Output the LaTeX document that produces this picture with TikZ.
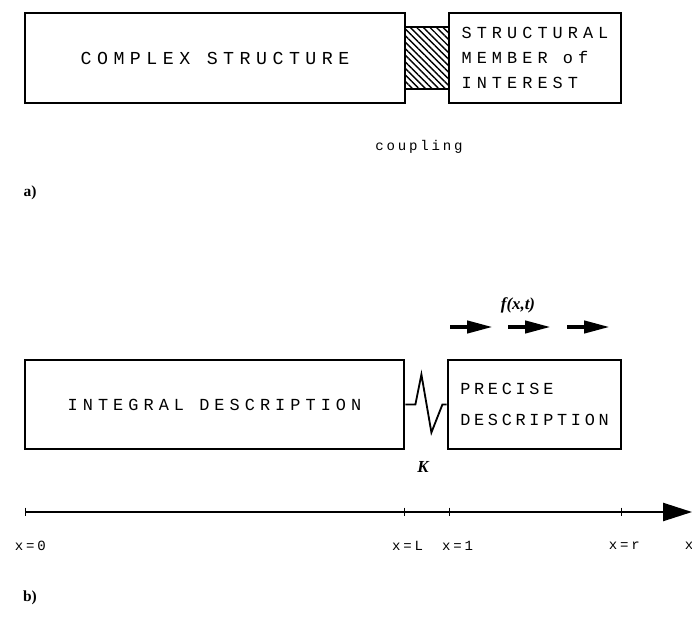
\documentclass[tikz,border=0pt]{standalone}
\usepackage{fontspec}
\setmainfont{Liberation Serif}
\newfontfamily\widemono[LetterSpace=30]{Liberation Mono}
\newfontfamily\tightmono[LetterSpace=22]{Liberation Mono}
\newfontfamily\smallmono[LetterSpace=20]{Liberation Mono}
\usetikzlibrary{arrows.meta, patterns.meta}

\tikzset{
  box/.style={draw, line width=2pt, inner sep=0pt},
  boxtext/.style={font=\widemono\fontsize{12}{17.8}\selectfont},
  smalltext/.style={font=\smallmono\fontsize{10}{12}\selectfont},
  bolditalic/.style={font=\bfseries\itshape\fontsize{12}{14}\selectfont},
  partlabel/.style={font=\bfseries\fontsize{11}{13}\selectfont},
  loadarrow/.style={line width=3pt, -{Triangle[length=0.65cm, width=0.3cm]}},
  axis/.style={line width=1.4pt, -{Triangle[length=0.72cm, width=0.45cm]}},
}

\begin{document}
\begin{tikzpicture}
    \useasboundingbox (0,0) rectangle (17.3,15.525);

    % Draw nodes a)
    \node[box, minimum width=9.5cm, minimum height=2.25cm, font=\widemono\fontsize{13}{15}\selectfont] (complex) at (5.375,14.075) {COMPLEX STRUCTURE};
    \node[box, line width=1.5pt, pattern={Lines[angle=-45, distance=3.3pt, line width=1pt]}, minimum width=1.1cm, minimum height=1.55cm] (coupling) at (10.675,14.075) {};
    \node[box, boxtext, align=left, minimum width=4.3cm, minimum height=2.25cm] (member) at (13.375,14.075) {STRUCTURAL\\MEMBER of\\INTEREST};

    % Labels a)
    \node[smalltext] (couplingtext) at (10.475,11.85) {coupling};
    \node[partlabel] (parta) at (0.75,10.7) {a)};

    % Draw nodes b)
    \node[box, boxtext, minimum width=9.475cm, minimum height=2.225cm] (integral) at (5.3625,5.4125) {INTEGRAL DESCRIPTION};
    \node[box, align=left, font=\tightmono\fontsize{12}{22}\selectfont, minimum width=4.325cm, minimum height=2.225cm] (precise) at (13.3625,5.4125) {PRECISE\\DESCRIPTION};

    % Draw spring
    \draw[line width=1.3pt] (integral.east) -- ++(0.25,0) -- ++(0.15,0.75) -- ++(0.25,-1.45) -- ++(0.275,0.7) -- (precise.west);
    \node[bolditalic] (spring) at (10.575,3.85) {K};

    % Load
    \node[bolditalic] (load) at (12.95,7.9) {f(x,t)};
    \foreach \s [count=\i] in {11.25,12.7,14.175} {
        \coordinate (f\i a) at (\s,7.35);
        \coordinate (f\i b) at (\s+1.075,7.35);
        \draw[loadarrow] (f\i a) -- (f\i b);
    }

    % Draw axis
    \coordinate (x0) at (0.625,2.725);
    \coordinate (xL) at (10.1,2.725);
    \coordinate (x1) at (11.225,2.725);
    \coordinate (xr) at (15.525,2.725);
    \coordinate (xend) at (17.3,2.725);
    \draw[axis] (x0) -- (xend);
    \foreach \t in {x0,xL,x1,xr}
        \draw[line width=0.6pt] (\t) ++(0,0.11) -- ++(0,-0.22);

    % Axis labels
    \node[smalltext] (lx0) at (0.76,1.875) {x=0};
    \node[smalltext] (lxL) at (10.19,1.875) {x=L};
    \node[smalltext] (lx1) at (11.44,1.875) {x=1};
    \node[smalltext] (lxr) at (15.61,1.875) {x=r};
    \node[smalltext] (lx) at (17.225,1.875) {x};
    \node[partlabel] (partb) at (0.75,0.575) {b)};
\end{tikzpicture}
\end{document}
